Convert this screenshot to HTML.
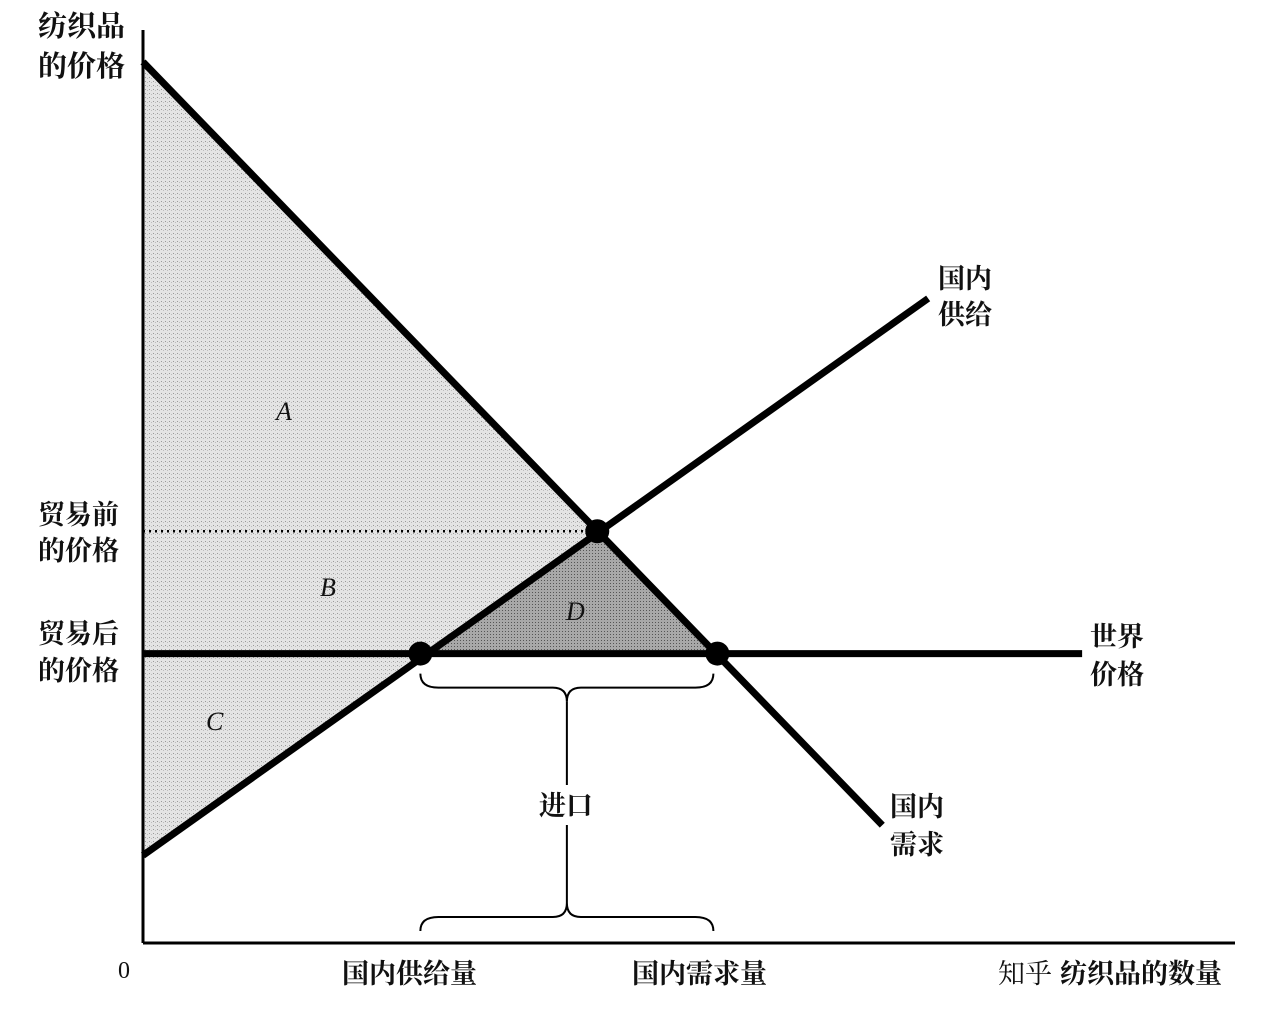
<!DOCTYPE html>
<html><head><meta charset="utf-8"><style>
html,body{margin:0;padding:0;background:#fff;}
svg{display:block;}
text{font-family:"Liberation Serif","Noto Serif CJK SC","Noto Sans CJK SC",serif;fill:#111;}
</style></head><body>
<svg id="chart" width="1278" height="1025" viewBox="0 0 1278 1025">
<defs>
<pattern id="stip" width="4" height="4" patternUnits="userSpaceOnUse">
<rect width="4" height="4" fill="#e4e4e4"/><rect x="1" y="1" width="1" height="1" fill="#9a9a9a"/><rect x="3" y="2" width="1" height="1" fill="#bdbdbd"/>
</pattern>
<pattern id="stipDark" width="3" height="3" patternUnits="userSpaceOnUse">
<rect width="3" height="3" fill="#a8a8a8"/><rect x="1" y="1" width="1" height="1" fill="#555"/>
</pattern>
</defs>
<g id="marks"></g>
</svg>
<script>
// data (quantity 0-100, price 0-100)
const demandPts = [[0, 96.5], [67.7, 12.9]];
const supplyPts = [[0, 9.6], [71.9, 70.6]];
const worldPrice = [31.7];
const worldEndQ = [86];
const equilibrium = [41.6, 45.1];
const qSupplyWorld = [25.4];
const qDemandWorld = [52.6];

const X0=143, X1=1235, Y0=943, Y1=30;
const x = q => X0 + q*(X1-X0)/100;
const y = p => Y0 - p*(Y0-Y1)/100;
const NS="http://www.w3.org/2000/svg";
const g=document.getElementById('marks');
function mk(tag, attrs, name){
  const el=document.createElementNS(NS,tag);
  for(const k in attrs) el.setAttribute(k,attrs[k]);
  
  
  g.appendChild(el); return el;
}
function txt(s, tx, ty, name, size, style, weight){
  const t=mk('text',{x:tx,y:ty,'font-size':size||27,'font-weight':weight||'bold'},name);
  if(style) t.setAttribute('font-style',style);
  t.textContent=s; return t;
}
const wp=worldPrice[0];
mk('polygon',{points:`${x(0)},${y(demandPts[0][1])} ${x(equilibrium[0])},${y(equilibrium[1])} ${x(qSupplyWorld[0])},${y(wp)} ${x(0)},${y(supplyPts[0][1])}`,fill:'url(#stip)'},'surplus-area');
mk('polygon',{points:`${x(qSupplyWorld[0])},${y(wp)} ${x(equilibrium[0])},${y(equilibrium[1])} ${x(qDemandWorld[0])},${y(wp)}`,fill:'url(#stipDark)'},'area-d');
mk('line',{x1:X0,y1:Y1,x2:X0,y2:Y0,stroke:'#000','stroke-width':3},'y-axis');
mk('line',{x1:X0,y1:Y0,x2:X1,y2:Y0,stroke:'#000','stroke-width':3},'x-axis');
mk('line',{x1:X0,y1:y(equilibrium[1]),x2:x(equilibrium[0]),y2:y(equilibrium[1]),stroke:'#000','stroke-width':2.5,'stroke-dasharray':'2 4'},'pre-trade-price-line');
mk('line',{x1:X0,y1:y(wp),x2:x(worldEndQ[0]),y2:y(wp),stroke:'#000','stroke-width':7},'world-price-line');
mk('line',{x1:x(demandPts[0][0]),y1:y(demandPts[0][1]),x2:x(demandPts[1][0]),y2:y(demandPts[1][1]),stroke:'#000','stroke-width':7},'demand-line');
mk('line',{x1:x(supplyPts[0][0]),y1:y(supplyPts[0][1]),x2:x(supplyPts[1][0]),y2:y(supplyPts[1][1]),stroke:'#000','stroke-width':7},'supply-line');
mk('circle',{cx:x(equilibrium[0]),cy:y(equilibrium[1]),r:12,fill:'#000'},'equilibrium-point');
mk('circle',{cx:x(qSupplyWorld[0]),cy:y(wp),r:12,fill:'#000'},'supply-world-point');
mk('circle',{cx:x(qDemandWorld[0]),cy:y(wp),r:12,fill:'#000'},'demand-world-point');
function brace(xa,xb,yb,down,name){
  const m=(xa+xb)/2, d=down?1:-1, h=14;
  const p=`M${xa},${yb} Q${xa},${yb+d*h} ${xa+18},${yb+d*h} L${m-14},${yb+d*h} Q${m},${yb+d*h} ${m},${yb+d*2*h} Q${m},${yb+d*h} ${m+14},${yb+d*h} L${xb-18},${yb+d*h} Q${xb},${yb+d*h} ${xb},${yb}`;
  mk('path',{d:p,fill:'none',stroke:'#000','stroke-width':2},name);
}
const xa=x(qSupplyWorld[0]), xb=x(qDemandWorld[0])-4;
brace(xa,xb,y(wp)+20,true,'imports-brace-top');
brace(xa,xb,931,false,'imports-brace-bottom');
const mx=(xa+xb)/2;
mk('line',{x1:mx,y1:y(wp)+48,x2:mx,y2:785,stroke:'#000','stroke-width':2},'imports-connector-top');
mk('line',{x1:mx,y1:825,x2:mx,y2:903,stroke:'#000','stroke-width':2},'imports-connector-bottom');
txt('进口',mx-28,815,'imports-label',27);
txt('纺织品',38,36,'y-axis-title-1',29); txt('的价格',38,76,'y-axis-title-2',29);
txt('贸易前',38,524,'pre-trade-price-label-1',27); txt('的价格',38,560,'pre-trade-price-label-2',27);
txt('贸易后',38,643,'post-trade-price-label-1',27); txt('的价格',38,680,'post-trade-price-label-2',27);
txt('国内',938,288,'supply-label-1',27); txt('供给',938,324,'supply-label-2',27);
txt('世界',1090,646,'world-price-label-1',27); txt('价格',1090,684,'world-price-label-2',27);
txt('国内',890,816,'demand-label-1',27); txt('需求',890,854,'demand-label-2',27);
txt('0',118,978,'origin-label',24,null,'normal');
txt('国内供给量',342,983,'domestic-supply-qty-label',27);
txt('国内需求量',632,983,'domestic-demand-qty-label',27);
txt('知乎',998,983,'watermark',27,null,'normal').setAttribute('fill','#d4d4d4');
txt('纺织品的数量',1060,983,'x-axis-title',27);
txt('A',276,420,'area-a-label',26,'italic','normal');
txt('B',320,596,'area-b-label',26,'italic','normal');
txt('C',206,730,'area-c-label',26,'italic','normal');
txt('D',566,620,'area-d-label',26,'italic','normal').setAttribute('fill','#777');
</script>
</body></html>
